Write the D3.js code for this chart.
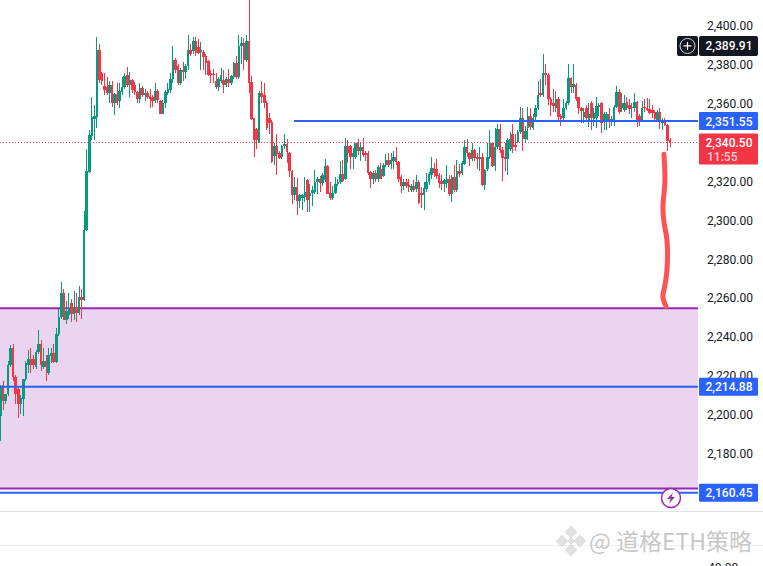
<!DOCTYPE html>
<html>
  <head>
    <meta charset="utf-8">
    <title>ETH candles</title>
    <script src="https://cdnjs.cloudflare.com/ajax/libs/d3/7.8.5/d3.min.js"></script>
    <style>
      html, body { margin: 0; padding: 0; background: #fff; overflow: hidden; }
      svg { display: block; }
    </style>
  </head>
  <body>
  <script>
    // OHLC, ten bars per row
    var opens = [
      2200,2215.6,2207.5,2211,2226,2234.7,2220,2214,2206,2208.5,
      2219,2226,2229,2229,2225,2233,2237,2225,2228,2222,
      2230.5,2232.5,2227.5,2242,2251,2263,2249,2252,2258,2252.5,
      2255.5,2253,2261,2259.4,2295.5,2325.3,2344,2352.6,2353.6,2388,
      2376,2369.4,2369,2366,2370,2361,2365.5,2362,2366.5,2369,
      2375,2370,2372.6,2370,2366.5,2363,2368.5,2365,2366,2364.5,
      2364,2362,2367,2362,2355,2361,2366,2367.5,2373,2383,
      2380,2371,2378,2377,2380,2388,2387.5,2392.5,2389.5,2387,
      2387,2385,2382.5,2376,2375.5,2372,2369,2372,2372.6,2370,
      2373,2371,2374,2381.5,2374,2390,2391.5,2383,2392.5,2371.5,
      2353,2347.5,2341,2366,2365,2361,2353,2351,2333.5,2338.7,
      2335,2333,2338.5,2339.5,2335,2326,2313.5,2317.7,2310.5,2312,
      2312.5,2321,2313,2314.5,2315,2320,2322,2319.5,2321,2328.4,
      2314.5,2312,2314.5,2319,2320,2324.5,2322,2338.5,2338.5,2333,
      2333,2340,2336,2338,2335,2335,2325.5,2321.5,2325,2322,
      2327,2323.5,2329,2331.5,2329.5,2331,2333,2330.5,2323,2318,
      2320,2318.5,2316,2318,2316.5,2320,2314.5,2313.5,2316.5,2320,
      2324,2327.5,2327,2324,2320.5,2319,2319.5,2322,2314,2323,
      2316,2326,2325,2329.5,2338,2335,2332,2336.5,2333,2332,
      2333,2318.5,2327,2333,2340,2328.5,2338,2347.5,2336.5,2333,
      2332,2337,2345,2339,2341,2346,2353,2342.5,2348,2354,
      2348,2353.5,2358,2366,2365,2376,2375,2363,2361,2358,
      2363,2354,2353,2358,2360.8,2373.7,2369,2370,2364,2358.5,
      2353.5,2358,2352,2361,2352.5,2353,2359,2361,2351,2351,
      2355,2351,2351.5,2359,2366.5,2358,2357,2361.5,2360,2358,
      2358,2361.5,2354,2352,2359,2358.5,2357.5,2357,2356,2352,
      2356,2350.5,2352,2349.5,2342
    ];
    var highs = [
      2216,2218,2210,2228,2236.5,2236.7,2221,2215,2210.5,2219,
      2228,2234,2235,2231,2234,2244,2239,2235,2231,2235,
      2235,2237,2245,2256,2269,2265,2259,2263,2260,2264,
      2263,2266.5,2265,2305.3,2337,2347,2363.8,2359.6,2394.7,2391,
      2377,2376,2374,2372,2372,2366,2371,2371,2374,2376,
      2379.5,2377,2373,2371.5,2367,2371,2369.5,2368,2367,2368,
      2365,2371,2368,2362.5,2362.5,2367.5,2371,2376,2390,2384,
      2381,2379,2382,2381,2396,2391,2394.5,2395,2393.5,2392,
      2388,2386,2383,2378,2378.5,2376,2374,2379,2378,2374,
      2378.5,2375,2382,2385,2396,2394.5,2394,2396,2420,2374.5,
      2353,2348,2367,2372,2371,2362,2355.5,2352,2340,2345,
      2336,2339,2345,2342.5,2335.5,2326.5,2322.8,2322.5,2314,2314,
      2322.8,2322,2319,2318,2326.3,2323,2323.5,2325,2332,2329,
      2320,2318,2323,2322,2331,2331.5,2343,2342,2339,2337.5,
      2340.5,2342.5,2340,2343,2336,2336,2326,2326,2326.5,2329,
      2330,2330,2334.6,2335,2335,2336,2338,2331,2324,2322,
      2322,2321.5,2319,2321,2323.8,2321,2317.5,2320,2325,2325.5,
      2333,2330,2332,2325,2324,2322,2329,2324,2324,2329,
      2331.5,2329.5,2331,2342,2342.5,2335.5,2340,2337,2335,2338,
      2335,2327,2340,2347,2341,2348,2350,2350,2338,2340,
      2343,2346,2350,2345,2347,2359,2358,2349,2359,2358,
      2355,2360,2372,2373,2386,2381,2376,2364,2368,2367,
      2364,2355,2363,2362,2381,2374,2381,2371,2364,2359,
      2358,2360,2361,2362,2358,2364,2361,2361.5,2356,2356,
      2358,2354,2360,2369.5,2368,2366,2365,2364,2363,2361,
      2366,2362,2355,2362,2363,2363.5,2363,2360,2357,2357,
      2358,2353,2353,2350,2343
    ];
    var lows = [
      2187,2203,2206,2210,2225,2218,2206,2199,2201,2200,
      2218,2222,2222,2224,2224,2232,2223,2224,2218,2221,
      2227,2227,2227,2241,2250,2249,2247,2250,2248,2249,
      2248,2252,2250,2259,2295,2325,2341.8,2341.8,2348,2371,
      2370,2365,2365,2361,2359,2354.6,2360,2358,2365,2368,
      2369,2364,2366,2365,2361,2361,2364,2362,2363,2358,
      2359,2361,2361,2355,2355,2358.5,2365,2366,2371,2376,
      2370,2370,2372,2373,2378,2385,2386,2385,2386,2378,
      2378,2375,2374.5,2371,2371,2368,2367,2371,2366,2369,
      2369,2370,2373,2373,2373,2381,2378,2382,2366,2352,
      2332.8,2337,2340,2361,2358,2347,2345,2330,2329,2324,
      2332,2332,2337,2330,2322.7,2309,2311,2303,2307,2306,
      2310,2305,2305,2308,2314,2314,2315,2318,2320,2314,
      2311,2311,2314,2318,2319,2320,2321,2330,2327,2327,
      2332,2334,2331,2333,2331,2324,2317,2319,2320,2320,
      2321.5,2323,2328,2328,2327,2327,2329,2320,2314.5,2316,
      2317,2315,2315,2315,2315,2309,2307,2306,2315,2318.5,
      2322,2323,2322,2317,2316,2315,2317,2313,2310,2315,
      2315,2323,2324,2329,2333,2328.5,2331,2331,2327,2326,
      2318,2316,2326,2332,2328,2326,2337,2335,2320.5,2326,
      2324,2336,2335,2336,2340,2345,2336,2341,2342,2347,
      2347,2352,2357,2364,2364,2370,2360,2354,2356,2356,
      2352,2349,2352,2357,2360,2366,2366,2362,2355,2350.5,
      2350.5,2352,2348.5,2347,2349,2348,2354,2345.5,2347,2347,
      2348,2349,2349,2358,2355,2356,2356,2357,2355,2353,
      2356,2348.5,2349,2351,2356,2356.5,2355,2353,2352,2351,
      2347.5,2347,2349,2336,2338
    ];
    var closes = [
      2215,2207.5,2211,2226,2235,2220,2211,2206,2209,2219,
      2227,2229,2226,2226,2233,2237,2226,2228,2225,2231,
      2232.5,2227.5,2242,2251,2263,2249,2254,2255,2252.5,2256,
      2253,2261,2259.5,2295.5,2325.7,2344.4,2353.6,2354,2388,2372.6,
      2372,2367.5,2366,2370,2360.8,2365.5,2361,2367,2369,2374.7,
      2370,2372.6,2367.5,2366.5,2362.8,2368.5,2365,2366,2364,2363,
      2362,2367,2362.3,2355,2361,2366.5,2368,2373,2383,2378,
      2371,2378,2377,2380,2388,2386,2392.5,2386.5,2386.5,2388,
      2384.5,2381.5,2375,2375,2375,2369,2373,2375,2370,2373,
      2371,2374.5,2381.5,2374,2390,2391.5,2383,2392.5,2371,2352.5,
      2341.8,2342,2366,2364,2361,2348,2350.5,2330.5,2338.7,2334.5,
      2332.6,2338.7,2339.5,2335.5,2326,2313.5,2317.7,2310.4,2313.5,2313.5,
      2315,2311,2314.5,2316,2320,2322,2319.5,2324,2328.4,2314,
      2312,2314.5,2319,2320,2324.5,2320.5,2338.5,2335,2333,2335,
      2340,2336,2338,2334,2334,2325,2321.5,2325,2321.5,2328,
      2322,2329,2331.5,2329,2331.5,2333,2330.5,2321.5,2318,2320,
      2318,2317.5,2318,2316,2320,2309.5,2313.5,2317,2320,2324.5,
      2327.5,2325,2323.5,2319.5,2319,2321,2322,2314,2323,2316,
      2326,2324.5,2330,2338,2335,2332,2336.5,2332.5,2332,2333,
      2318.5,2326.5,2333,2340,2328.5,2338,2347.5,2336.5,2332.5,2332,
      2342,2342.5,2338,2338,2346,2353,2342.5,2346.5,2354,2348.5,
      2353,2358.5,2365,2365,2376,2375,2363,2360,2359.5,2363,
      2353.5,2352.5,2358,2361,2373.7,2369,2370.5,2363,2358,2356.5,
      2356,2353,2355,2353,2355.5,2359.5,2360,2350.5,2355,2355,
      2351.5,2352.5,2359,2366.5,2356,2361,2361,2358,2357.5,2359,
      2361.5,2351.5,2351.5,2358,2358,2357,2355.5,2355.5,2352.5,2356,
      2351,2352,2349.5,2341.5,2340.5
    ];

    var axisTicks = [2400, 2380, 2360, 2320, 2300, 2280, 2260, 2240, 2220, 2200, 2180];

    // horizontal levels on the chart
    var zoneTop = 2255.3;
    var zoneBottom = 2162.6;
    var resistance = 2351.55;
    var midLevel = 2214.88;
    var lowLevel = 2160.45;
    var lastPrice = 2340.50;
    var crossPrice = 2389.91;
    var countdown = "11:55";

    // the hand drawn red stroke
    var strokeBars = [261.6, 262, 261.2, 261.6, 262.8, 262.8, 262, 261.2, 262.4];
    var strokePrices = [2334.5, 2321.2, 2306.8, 2299.6, 2290.3, 2274.9, 2267.2, 2261, 2256.3];

    var width = 763, height = 566, plotRight = 698;
    var upColor = "#089981", downColor = "#f23645", blue = "#2962ff", purple = "#9c27b0";
    var font = "Roboto, 'Liberation Sans', sans-serif";

    var x = d3.scaleLinear().domain([0, 264]).range([0.5, 670]);
    var y = d3.scaleLinear().domain([2400, 2160.45]).range([26.8, 492.7]);
    var fmt = d3.format(",.2f");

    var svg = d3.select("body").append("svg")
                .attr("width", width)
                .attr("height", height)
                .style("font-family", font);

    // zone first, everything else goes over it
    svg.append("rect")
       .attr("x", 0).attr("width", plotRight)
       .attr("y", y(zoneTop))
       .attr("height", y(zoneBottom) - y(zoneTop))
       .style("fill", "#ead4ef");

    [zoneTop, zoneBottom].forEach(function (p) {
      svg.append("line")
         .attr("x1", 0).attr("x2", plotRight)
         .attr("y1", y(p)).attr("y2", y(p))
         .style("stroke", purple).style("stroke-width", 2);
    });

    // panel separators below the chart
    svg.append("line").attr("x1", 0).attr("x2", width).attr("y1", 511.5).attr("y2", 511.5)
       .style("stroke", "#e0e3eb");
    svg.append("line").attr("x1", 0).attr("x2", width).attr("y1", 545.5).attr("y2", 545.5)
       .style("stroke", "#eceef2");

    // candles
    var candles = svg.append("g").selectAll("g")
                     .data(opens)
                     .enter()
                     .append("g")
                     .style("shape-rendering", "crispEdges");

    function barColor(i) { return closes[i] >= opens[i] ? upColor : downColor; }

    candles.append("rect")
           .attr("x", function (d, i) { return Math.round(x(i) - 0.5); })
           .attr("width", 1)
           .attr("y", function (d, i) { return y(highs[i]); })
           .attr("height", function (d, i) { return y(lows[i]) - y(highs[i]); })
           .style("fill", function (d, i) { return barColor(i); });

    candles.append("rect")
           .attr("x", function (d, i) { return Math.round(x(i) - 1.27); })
           .attr("width", function (d, i) { return Math.round(x(i) + 1.27) - Math.round(x(i) - 1.27); })
           .attr("y", function (d, i) { return y(Math.max(opens[i], closes[i])); })
           .attr("height", function (d, i) { return Math.max(1, Math.abs(y(opens[i]) - y(closes[i]))); })
           .style("fill", function (d, i) { return barColor(i); });

    // blue levels
    svg.append("line").attr("x1", 294).attr("x2", plotRight)
       .attr("y1", y(resistance)).attr("y2", y(resistance))
       .style("stroke", blue).style("stroke-width", 2);
    [midLevel, lowLevel].forEach(function (p) {
      svg.append("line").attr("x1", 0).attr("x2", plotRight)
         .attr("y1", y(p)).attr("y2", y(p))
         .style("stroke", blue).style("stroke-width", 2);
    });

    // last price line
    svg.append("line").attr("x1", 0).attr("x2", plotRight)
       .attr("y1", y(lastPrice)).attr("y2", y(lastPrice))
       .style("stroke", downColor)
       .style("stroke-dasharray", "1 2");

    // hand drawn stroke
    var strokeLine = d3.line()
                       .x(function (d, i) { return x(d); })
                       .y(function (d, i) { return y(strokePrices[i]); })
                       .curve(d3.curveCatmullRom);
    svg.append("path")
       .attr("d", strokeLine(strokeBars))
       .style("fill", "none")
       .style("stroke", "#ff5252")
       .style("stroke-width", 5)
       .style("stroke-linecap", "round");

    // price axis, labels sit a pixel above their level
    var axis = d3.axisRight(y)
                 .tickValues(axisTicks)
                 .tickSize(0)
                 .tickPadding(0)
                 .tickFormat(fmt);
    var axisG = svg.append("g")
                   .attr("transform", "translate(707,-1)")
                   .call(axis);
    axisG.select(".domain").remove();
    axisG.selectAll("text")
         .style("font-family", font)
         .style("font-size", "12px")
         .style("fill", "#131722");

    // price badges
    function badge(p, fill) {
      var cy = y(p);
      svg.append("rect")
         .attr("x", 699).attr("width", 59)
         .attr("y", cy - 9).attr("height", 18)
         .attr("rx", 1)
         .style("fill", fill);
      svg.append("text")
         .attr("x", 729).attr("y", cy + 4.5)
         .attr("text-anchor", "middle")
         .style("font-size", "12px")
         .style("font-weight", 500)
         .style("fill", "#fff")
         .text(fmt(p));
    }
    badge(resistance, blue);
    badge(midLevel, blue);
    badge(lowLevel, blue);

    // crosshair price + plus button
    var crossY = y(crossPrice) - 0.5;
    svg.append("rect").attr("x", 677).attr("width", 21).attr("y", crossY - 10).attr("height", 20)
       .attr("rx", 2).style("fill", "#131722");
    svg.append("rect").attr("x", 699).attr("width", 59).attr("y", crossY - 10).attr("height", 20)
       .attr("rx", 2).style("fill", "#131722");
    svg.append("circle").attr("cx", 687.5).attr("cy", crossY).attr("r", 7.5)
       .style("fill", "none").style("stroke", "#d1d4dc").style("stroke-width", 1);
    svg.append("path")
       .attr("d", "M683.5," + crossY + "H691.5M687.5," + (crossY - 4) + "V" + (crossY + 4))
       .style("stroke", "#fff").style("stroke-width", 1.2);
    svg.append("text").attr("x", 729).attr("y", crossY + 4.5)
       .attr("text-anchor", "middle")
       .style("font-size", "12px").style("font-weight", 500).style("fill", "#fff")
       .text(fmt(crossPrice));

    // last price badge with countdown
    svg.append("rect").attr("x", 699).attr("width", 59)
       .attr("y", y(lastPrice) - 9).attr("height", 31)
       .attr("rx", 1).style("fill", downColor);
    svg.append("text").attr("x", 729).attr("y", y(lastPrice) + 4.5)
       .attr("text-anchor", "middle")
       .style("font-size", "12px").style("font-weight", 500).style("fill", "#fff")
       .text(fmt(lastPrice));
    svg.append("text").attr("x", 707).attr("y", y(lastPrice) + 18)
       .style("font-size", "12px").style("font-weight", 500).style("fill", "#fbd0d4")
       .text(countdown);

    // lightning marker
    svg.append("circle").attr("cx", 671).attr("cy", 498).attr("r", 9.5)
       .style("fill", "#fff").style("stroke", purple).style("stroke-width", 1.5);
    svg.append("path")
       .attr("d", "M673,492.5L667,499H670.5L669,503.5L675,497H671.5Z")
       .style("fill", purple);

    // binance style watermark
    var mark = svg.append("g").attr("transform", "translate(571,541)")
                  .style("fill", "#e2e2e2")
                  .style("stroke", "#c9c9c9")
                  .style("stroke-width", 0.6);
    [[0, -9], [-9, 0], [9, 0], [0, 9]].forEach(function (c) {
      mark.append("path")
          .attr("transform", "translate(" + c[0] + "," + c[1] + ") rotate(45)")
          .attr("d", "M-4,-4H4V4H-4Z");
    });
    mark.append("path").attr("d", "M0,-3L3,0L0,3L-3,0Z");

    svg.append("text")
       .attr("x", 589).attr("y", 550)
       .style("font-family", "'Noto Sans CJK SC', 'DejaVu Sans', sans-serif")
       .style("font-size", "23px")
       .style("fill", "#c8c8c8")
       .style("stroke", "#fff")
       .style("stroke-width", 0.5)
       .style("paint-order", "stroke")
       .text("@ 道格ETH策略");

    // clipped value of the panel below
    svg.append("text").attr("x", 708).attr("y", 572)
       .style("font-size", "12px").style("fill", "#131722")
       .text("40.00");
  </script>
  </body>
</html>
